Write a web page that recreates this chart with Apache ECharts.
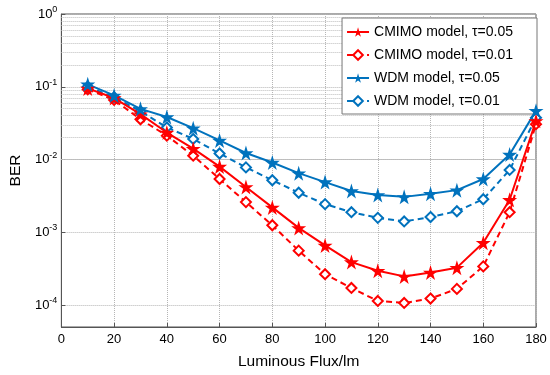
<!DOCTYPE html>
<html>
<head>
<meta charset="utf-8">
<script src="https://cdn.jsdelivr.net/npm/echarts@6/dist/echarts.min.js"></script>
<style>html,body{margin:0;padding:0;background:#fff}#c{width:550px;height:375px}</style>
</head>
<body>
<div id="c"></div>
<script>
var flux = [10,20,30,40,50,60,70,80,90,100,110,120,130,140,150,160,170,180];
var cmimo005 = [0.095,0.070,0.042,0.0235,0.0141,0.0080,0.0042,0.0022,0.00115,0.00066,0.00039,0.000296,0.000248,0.00028,0.000327,0.00072,0.0028,0.034];
var cmimo001 = [0.092,0.066,0.0357,0.0213,0.0113,0.0054,0.0026,0.00125,0.00056,0.000266,0.000172,0.000114,0.000107,0.000123,0.000167,0.00034,0.00189,0.0306];
var wdm005 = [0.108,0.076,0.0497,0.0384,0.027,0.0183,0.0123,0.0091,0.0065,0.0049,0.00369,0.00326,0.00307,0.0034,0.0038,0.0054,0.0117,0.047];
var wdm001 = [0.100,0.072,0.046,0.0276,0.0192,0.0121,0.0078,0.0052,0.0035,0.00244,0.00189,0.00158,0.00141,0.00162,0.00195,0.00285,0.0072,0.0376];
var seriesNames = ['CMIMO model, \u03c4=0.05','CMIMO model, \u03c4=0.01','WDM model, \u03c4=0.05','WDM model, \u03c4=0.01'];
var xLabel = 'Luminous Flux/lm';
var yLabel = 'BER';

var star = 'path://M50,0 L61,35 L98,35 L68,57 L79,91 L50,70 L21,91 L32,57 L2,35 L39,35 Z';
var RED = '#ff0000', BLUE = '#0072bd';

function pair(ys){ return flux.map(function(x,i){ return [x, ys[i]]; }); }

var minor = [];
for (var k = -5; k <= -1; k++) {
  for (var m = 2; m <= 9; m++) {
    var v = m * Math.pow(10, k);
    if (v >= 5e-5 && v < 1) minor.push({yAxis: v});
  }
}

var chart = echarts.init(document.getElementById('c'));
var font = 'Liberation Sans, Arial, sans-serif';
chart.setOption({
  animation: false,
  textStyle: {fontFamily: font},
  grid: {left: 47, top: 14, right: 14, bottom: 42, show: true, borderColor: '#555', borderWidth: 1, backgroundColor: 'transparent'},
  legend: {
    orient: 'vertical', right: 13, top: 18,
    backgroundColor: '#fff', borderColor: '#777', borderWidth: 1,
    padding: [7, 24, 6, 4],
    itemWidth: 22, itemHeight: 12, itemGap: 9,
    textStyle: {fontSize: 14, color: '#000', fontFamily: font},
    data: seriesNames
  },
  xAxis: {
    type: 'value', min: 0, max: 180, interval: 20,
    name: xLabel, nameLocation: 'middle', nameGap: 27,
    nameTextStyle: {fontSize: 15.5, color: '#000', fontFamily: font},
    axisLine: {show: true, lineStyle: {color: '#555'}},
    axisTick: {inside: true, length: 4, lineStyle: {color: '#555'}},
    axisLabel: {fontSize: 13, color: '#000', margin: 6},
    splitLine: {show: true, lineStyle: {type: 'dotted', color: '#b5b5b5'}}
  },
  yAxis: {
    type: 'log', logBase: 10, min: 5e-5, max: 1,
    name: yLabel, nameLocation: 'middle', nameGap: 26,
    nameTextStyle: {fontSize: 15.5, color: '#000', fontFamily: font},
    axisLine: {show: true, lineStyle: {color: '#555'}},
    axisTick: {inside: true, length: 4, lineStyle: {color: '#555'}},
    axisLabel: {
      fontSize: 13, color: '#000', margin: 4,
      formatter: function(v){
        var l = Math.log10(v);
        if (Math.abs(l - Math.round(l)) > 1e-6) return '';
        return '{b|10}{s|' + Math.round(l) + '}';
      },
      rich: {b: {fontSize: 13, color: '#000'}, s: {fontSize: 9, color: '#000', padding: [0, 0, 9, 0]}}
    },
    splitLine: {show: true, lineStyle: {type: 'dotted', color: '#b5b5b5'}}
  },
  series: [
    {name: seriesNames[0], type: 'line', data: pair(cmimo005), color: RED, symbol: star, symbolSize: 15,
     lineStyle: {width: 2, color: RED}, itemStyle: {color: RED}, z: 4,
     markLine: {silent: true, symbol: 'none', label: {show: false}, animation: false, z: 1,
       lineStyle: {type: 'dotted', color: '#bdbdbd', width: 1}, emphasis: {disabled: true}, data: minor}},
    {name: seriesNames[1], type: 'line', data: pair(cmimo001), color: RED, symbol: 'emptyDiamond', symbolSize: 10,
     lineStyle: {width: 2, type: [6, 4], color: RED}, itemStyle: {color: RED, borderWidth: 2}, z: 3},
    {name: seriesNames[2], type: 'line', data: pair(wdm005), color: BLUE, symbol: star, symbolSize: 15,
     lineStyle: {width: 2, color: BLUE}, itemStyle: {color: BLUE}, z: 4},
    {name: seriesNames[3], type: 'line', data: pair(wdm001), color: BLUE, symbol: 'emptyDiamond', symbolSize: 10,
     lineStyle: {width: 2, type: [6, 4], color: BLUE}, itemStyle: {color: BLUE, borderWidth: 2}, z: 3}
  ]
});
</script>
</body>
</html>
